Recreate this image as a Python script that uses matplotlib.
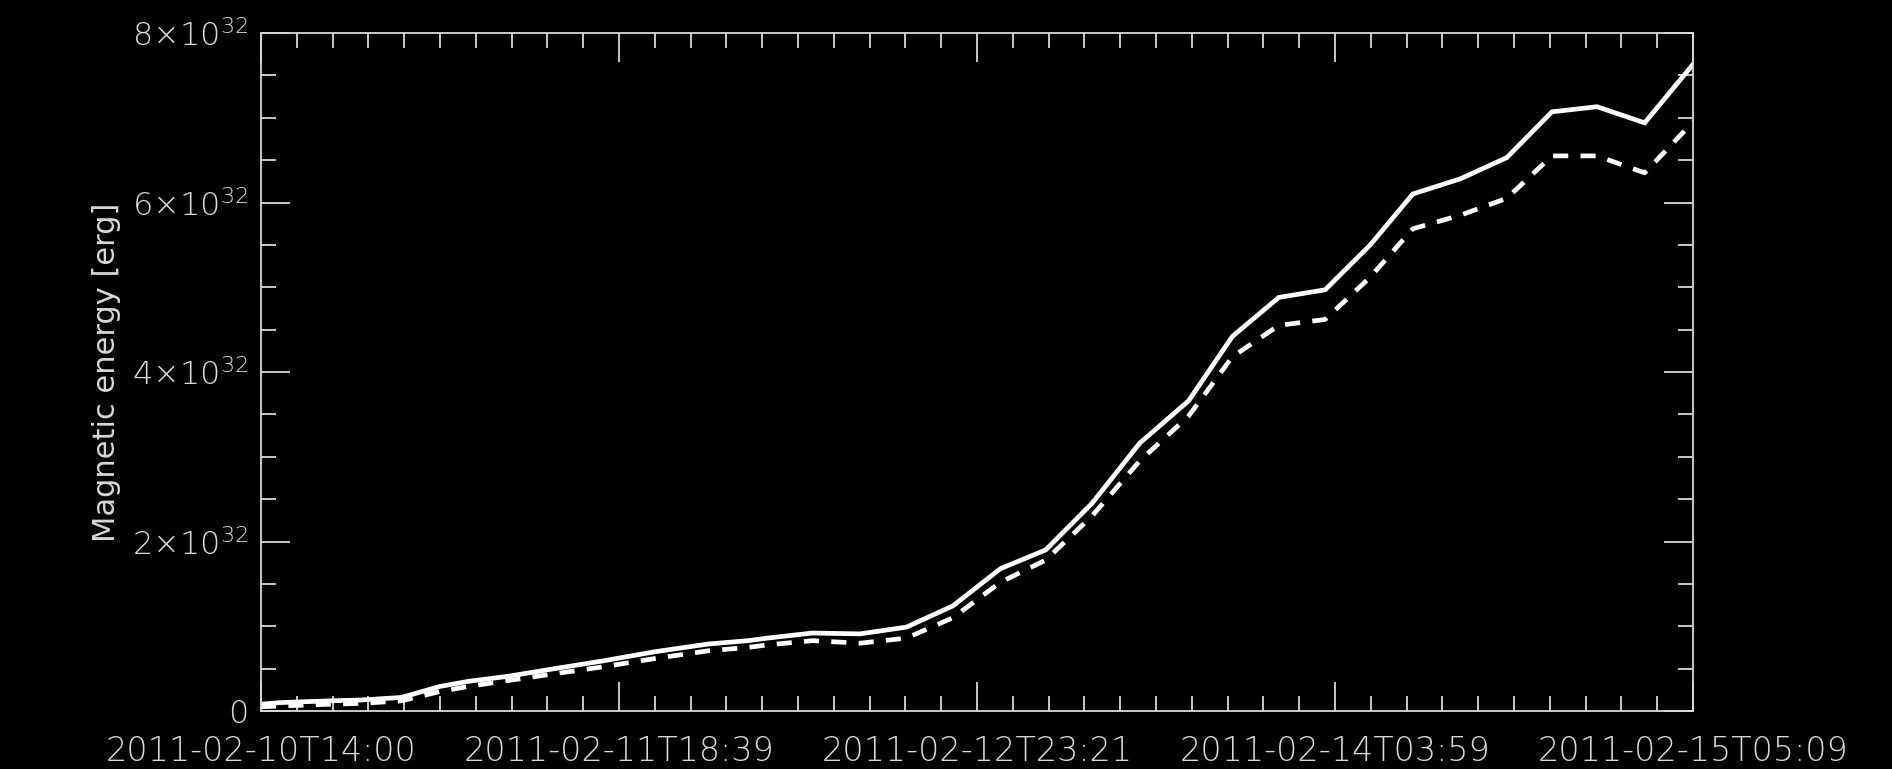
import numpy as np
import matplotlib
matplotlib.use("Agg")
import matplotlib.pyplot as plt
from matplotlib.ticker import FixedLocator, MultipleLocator

# hours since 2011-02-10T14:00
hours = [0.0, 1.6, 5.4, 7.8, 10.9, 13.9, 16.1, 19.2, 22.8, 26.5, 30.6, 34.7,
         37.8, 39.3, 42.8, 46.5, 50.1, 53.7, 57.4, 60.9, 64.5, 68.2, 72.0,
         75.4, 79.0, 82.6, 86.1, 89.4, 93.1, 96.7, 100.2, 103.7, 107.4, 111.15]

# magnetic energy in units of 1e32 erg
energy_total = [0.08, 0.10, 0.12, 0.13, 0.16, 0.29, 0.35, 0.41, 0.50, 0.59, 0.70,
                0.79, 0.83, 0.86, 0.92, 0.91, 0.99, 1.24, 1.68, 1.90, 2.45, 3.16,
                3.66, 4.42, 4.88, 4.97, 5.50, 6.10, 6.28, 6.53, 7.07, 7.13, 6.94, 7.63]
energy_other = [0.05, 0.06, 0.08, 0.09, 0.12, 0.23, 0.29, 0.36, 0.44, 0.52, 0.62,
                0.71, 0.75, 0.78, 0.83, 0.80, 0.86, 1.10, 1.52, 1.78, 2.30, 2.95,
                3.48, 4.18, 4.55, 4.62, 5.12, 5.69, 5.85, 6.05, 6.55, 6.55, 6.35, 6.95]

time_labels = ['2011-02-10T14:00', '2011-02-11T18:39', '2011-02-12T23:21',
               '2011-02-14T03:59', '2011-02-15T05:09']
y_ticks = [0, 2, 4, 6, 8]
y_labels = ['0', r'2$\times$10$^{32}$', r'4$\times$10$^{32}$',
            r'6$\times$10$^{32}$', r'8$\times$10$^{32}$']

FG = '#d8d8d8'
plt.rcParams['font.family'] = ['DejaVu Sans']
plt.rcParams['font.weight'] = 'light'
plt.rcParams['mathtext.fontset'] = 'dejavusans'

fig = plt.figure(figsize=(18.92, 7.69), dpi=100, facecolor='black')
ax = fig.add_axes([261 / 1892, 58 / 769, 1432 / 1892, 678 / 769])
ax.set_facecolor('black')

t = np.array(hours)
e1 = np.array(energy_total) * 1e32
e2 = np.array(energy_other) * 1e32

ax.plot(t, e1, color='white', linewidth=3.4, solid_joinstyle='miter')
ax.plot(t, e2, color='white', linewidth=3.4, dashes=(3.2, 2.6),
        dash_capstyle='butt')

span = hours[-1]
ax.set_xlim(0, span)
ax.set_ylim(0, 8e32)

ax.xaxis.set_major_locator(FixedLocator(np.linspace(0, span, 5)))
ax.xaxis.set_minor_locator(FixedLocator(np.linspace(0, span, 41)))
ax.set_xticklabels(time_labels)
ax.yaxis.set_major_locator(FixedLocator([v * 1e32 for v in y_ticks]))
ax.yaxis.set_minor_locator(MultipleLocator(0.5e32))
ax.set_yticklabels(y_labels)

for s in ax.spines.values():
    s.set_color(FG)
    s.set_linewidth(1.3)

ax.tick_params(which='both', direction='in', top=True, right=True,
               color=FG, width=1.3)
ax.tick_params(which='major', length=21)
ax.tick_params(which='minor', length=11)
ax.tick_params(axis='x', which='major', labelsize=24, labelcolor=FG, pad=17)
ax.tick_params(axis='y', which='major', labelsize=23, labelcolor=FG, pad=9)

ax.set_ylabel('Magnetic energy [erg]', color=FG, fontsize=22)
ax.yaxis.set_label_coords(-0.098, 0.5)

fig.savefig('out.png', dpi=100, facecolor='black')
